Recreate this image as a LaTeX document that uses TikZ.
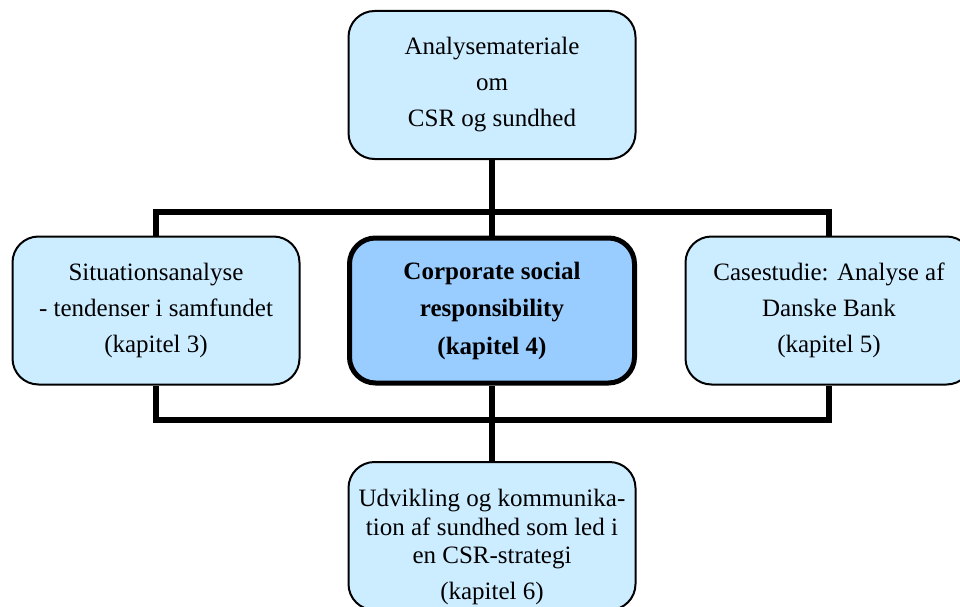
\documentclass[tikz,border=0pt]{standalone}
\usepackage{fontspec}
\setmainfont{Liberation Serif}
\usetikzlibrary{backgrounds}
\definecolor{boxlight}{HTML}{CCECFF}
\definecolor{boxdark}{HTML}{99CCFF}
\begin{document}
\begin{tikzpicture}[x=1pt,y=-1pt,
  box/.style={draw=black, line width=2pt, fill=boxlight, rounded corners=26pt,
    minimum width=287pt, minimum height=148pt, inner sep=0pt, align=center,
    font=\fontsize{25}{36}\selectfont},
  keybox/.style={box, fill=boxdark, line width=5pt, minimum width=285pt,
    minimum height=145pt, font=\fontsize{25}{37.5}\selectfont\bfseries},
  boxtext/.style={inner sep=0pt, align=center},
  conn/.style={line width=5.5pt, line join=miter}]
  \useasboundingbox (0,0) rectangle (960,607);
  \clip (0,0) rectangle (960,607);

  % chapter boxes
  \node[box] (src) at (492,85) {Analysemateriale\\om\\CSR og sundhed};
  \node[keybox] (csr) at (492,310.5) {Corporate social\\responsibility\\(kapitel 4)};
  \node[box] (sit) at (156,310.5) {Situationsanalyse\\- tendenser i samfundet\\(kapitel 3)};
  \node[box] (case) at (829,310.5) {Casestudie: Analyse af\\Danske Bank\\(kapitel 5)};
  \node[box] (dev) at (492,536) {};
  \node[boxtext, font=\fontsize{25}{28.5}\selectfont] (devtext) at (492,547)
    {Udvikling og kommunika-\\tion af sundhed som led i\\en CSR-strategi\\[7pt](kapitel 6)};

  % connector bars behind the boxes
  \coordinate (barTop) at (492,212);
  \coordinate (barBot) at (492,420);
  \begin{pgfonlayer}{background}
    \draw[conn] (src.south) -- (csr.north);
    \draw[conn] (csr.south) -- (dev.north);
    \draw[conn] (sit.north) |- (barTop) -| (case.north);
    \draw[conn] (sit.south) |- (barBot) -| (case.south);
  \end{pgfonlayer}
\end{tikzpicture}
\end{document}
